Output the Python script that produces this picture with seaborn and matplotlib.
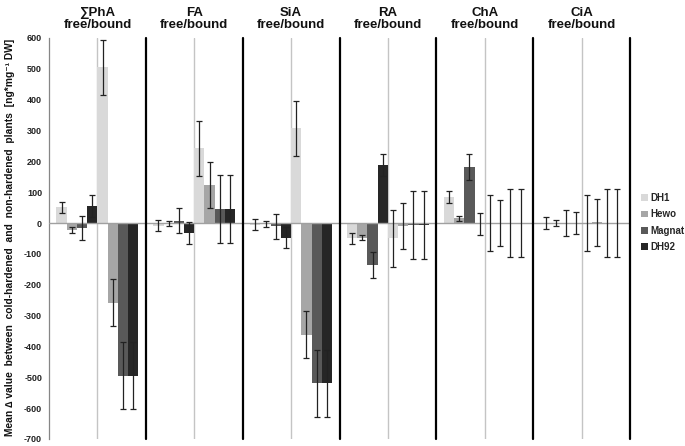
import numpy as np
import pandas as pd
import matplotlib
matplotlib.use("Agg")
import matplotlib.pyplot as plt
import matplotlib.transforms as mtransforms
from matplotlib.patches import Patch
import seaborn as sns

# ---------------- data ----------------
groups = ["∑PhA", "FA", "SiA", "RA", "ChA", "CiA"]
cultivars = ["DH1", "Hewo", "Magnat", "DH92"]
parts = ["free", "bound"]

dh1_free = [51, -9, -5, -50, 85, 0]
dh1_free_err = [18, 18, 18, 19, 20, 19]
hewo_free = [-22, -2, -3, -48, 15, 1]
hewo_free_err = [9, 9, 9, 8, 9, 9]
magnat_free = [-16, 8, -10, -136, 182, 0]
magnat_free_err = [40, 40, 41, 41, 42, 41]
dh92_free = [56, -32, -47, 188, -3, 1]
dh92_free_err = [35, 35, 35, 36, 35, 35]

dh1_bound = [505, 243, 307, -50, 1, 1]
dh1_bound_err = [90, 89, 90, 91, 90, 90]
hewo_bound = [-258, 124, -362, -10, 0, 2]
hewo_bound_err = [76, 75, 76, 75, 75, 75]
magnat_bound = [-495, 45, -520, -6, 0, 0]
magnat_bound_err = [109, 110, 110, 109, 109, 110]
dh92_bound = [-495, 45, -520, -6, 0, 0]
dh92_bound_err = [109, 110, 110, 109, 109, 110]

yticks = list(range(-700, 601, 100))

colors = ["#d9d9d9", "#a6a6a6", "#595959", "#262626"]

# ---------------- table ----------------
series = {
    ("free", "DH1"): (dh1_free, dh1_free_err),
    ("free", "Hewo"): (hewo_free, hewo_free_err),
    ("free", "Magnat"): (magnat_free, magnat_free_err),
    ("free", "DH92"): (dh92_free, dh92_free_err),
    ("bound", "DH1"): (dh1_bound, dh1_bound_err),
    ("bound", "Hewo"): (hewo_bound, hewo_bound_err),
    ("bound", "Magnat"): (magnat_bound, magnat_bound_err),
    ("bound", "DH92"): (dh92_bound, dh92_bound_err),
}
levels = [f"{p} {c}" for p in parts for c in cultivars]
rows = []
for p in parts:
    for c in cultivars:
        vals, errs = series[(p, c)]
        for g, v, e in zip(groups, vals, errs):
            rows.append({"group": g, "level": f"{p} {c}", "value": v, "err": e})
df = pd.DataFrame(rows)

# ---------------- style ----------------
sns.set_theme(style="white")
plt.rcParams["font.family"] = ["Liberation Sans", "DejaVu Sans"]

W, H = 685, 446
fig = plt.figure(figsize=(W / 100, H / 100), dpi=100)
left, right, top, bottom = 49, 630, 38, 439
ax = fig.add_axes([left / W, 1 - bottom / H, (right - left) / W, (bottom - top) / H])

pal = colors + colors
sns.barplot(data=df, x="group", y="value", hue="level", order=groups,
            hue_order=levels, palette=pal, width=82 / 97, saturation=1,
            errorbar=None, legend=False, linewidth=0, ax=ax, zorder=2)

for cont, lev in zip(ax.containers, levels):
    sub = df[df["level"] == lev].set_index("group").loc[groups]
    xs = [b.get_x() + b.get_width() / 2 for b in cont]
    ax.errorbar(xs, sub["value"].values, yerr=sub["err"].values, fmt="none",
                ecolor="#222222", elinewidth=0.9, capsize=2.3, capthick=0.9,
                zorder=4)

ax.set_xlim(-0.5, len(groups) - 0.5)
ax.set_ylim(-700, 600)
ax.set_yticks(yticks)
ax.set_yticklabels([str(t) for t in yticks], fontsize=6.5, fontweight="bold",
                   color="#222222")
ax.tick_params(axis="y", direction="out", length=3, width=0.8, color="#868686", pad=2)
ax.set_xticks([])
ax.set_xlabel("")
ax.set_ylabel("")

for s in ["top", "right", "bottom"]:
    ax.spines[s].set_visible(False)
ax.spines["left"].set_color("#868686")
ax.spines["left"].set_linewidth(0.9)

# zero line
ax.axhline(0, color="#a0a0a0", lw=1.0, zorder=3)
# separators
for i in range(len(groups)):
    ax.axvline(i, color="#c4c4c4", lw=1.0, zorder=1)
    ax.axvline(i + 0.5, color="black", lw=1.6, zorder=5, clip_on=False)

# group titles
trans = mtransforms.blended_transform_factory(ax.transData, ax.transAxes)
for i, g in enumerate(groups):
    ax.text(i, 1 + 7 / (bottom - top), f"{g}\nfree/bound", transform=trans,
            ha="center", va="bottom", fontsize=9.5, fontweight="bold",
            linespacing=1.05, color="#111111")

# y label
fig.text(10 / W, 1 - 237 / H,
         "Mean \u2206 value  between  cold-hardened  and  non-hardened  plants  [ng*mg\u207b\u00b9 DW]",
         rotation=90, ha="center", va="center", fontsize=7.4, fontweight="bold",
         color="#111111")

# legend
handles = [Patch(facecolor=c, edgecolor="none") for c in colors]
fig.legend(handles, cultivars, loc="upper left",
           bbox_to_anchor=(641 / W, 1 - 193 / H), frameon=False,
           prop={"size": 7, "weight": "bold"}, handlelength=0.7,
           handleheight=0.7, handletextpad=0.3, labelspacing=0.65,
           borderpad=0, borderaxespad=0)

fig.savefig("out.png", dpi=100)
